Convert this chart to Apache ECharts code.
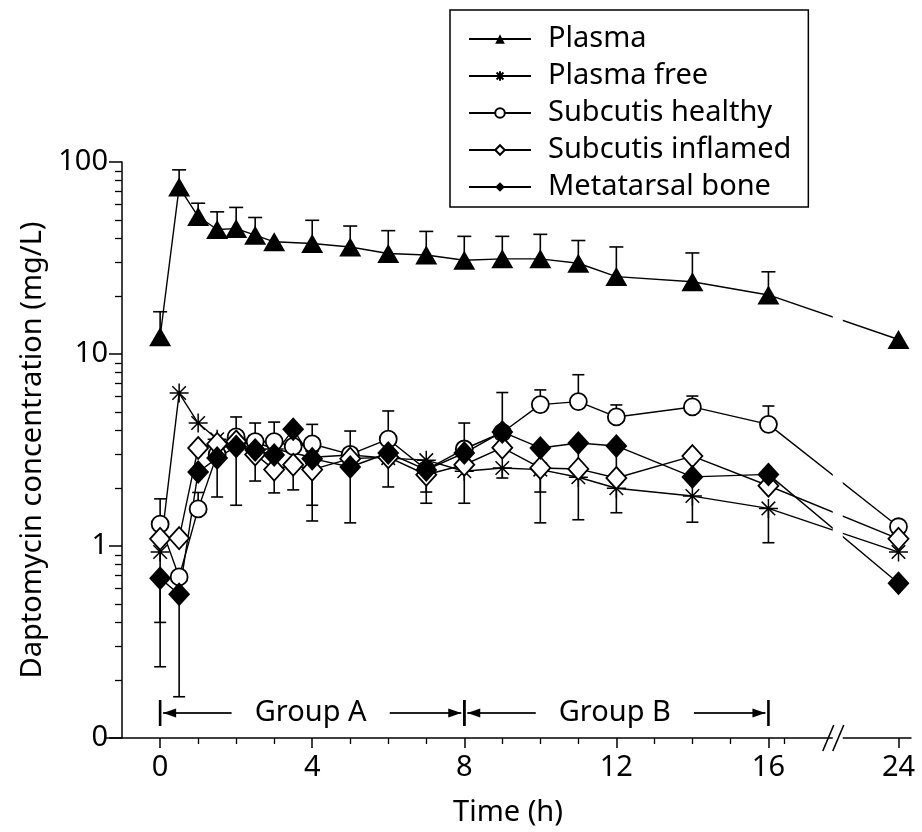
<!DOCTYPE html>
<html><head><meta charset="utf-8">
<script src="https://cdn.jsdelivr.net/npm/echarts@6/dist/echarts.min.js"></script>
<style>html,body{margin:0;padding:0;background:#fff}#c{width:922px;height:832px}</style>
</head><body><div id="c"></div>
<script>
// ---- data (time in hours, concentration in mg/L) ----
const timeH = [0, 0.5, 1, 1.5, 2, 2.5, 3, 3.5, 4, 5, 6, 7, 8, 9, 10, 11, 12, 14, 16, 24];
const plasma      = [12.3, 74, 52, 44.5, 45, 41.6, 38.4, null, 37.6, 36.1, 33.4, 32.8, 30.8, 31.3, 31.3, 29.7, 25.3, 23.8, 20.3, 11.9];
const plasmaFree  = [0.93, 6.26, 4.37, 3.6, 3.4, 3.48, 3.2, null, 2.9, 2.98, 2.87, 2.8, 2.45, 2.55, 2.5, 2.28, 2.0, 1.82, 1.57, 0.93];
const subHealthy  = [1.30, 0.69, 1.56, 3.0, 3.7, 3.5, 3.5, 3.3, 3.4, 3.0, 3.6, 2.5, 3.2, 3.9, 5.45, 5.65, 4.7, 5.3, 4.3, 1.26];
const subInflamed = [1.09, 1.10, 3.24, 3.4, 3.5, 3.0, 2.5, 2.65, 2.5, 2.85, 2.9, 2.35, 2.65, 3.25, 2.55, 2.52, 2.26, 2.94, 2.06, 1.09];
const metaBone    = [0.68, 0.56, 2.43, 2.87, 3.3, 3.16, 2.98, 4.05, 2.85, 2.58, 3.05, 2.49, 3.05, 3.93, 3.24, 3.44, 3.32, 2.29, 2.36, 0.64];
// error bar ends (one-sided)
const plasmaHi    = [16.6, 91, 61, 55, 58, 51.4, null, null, 49.7, 46.4, 43.9, 43.5, 41, 41, 42, 39, 36.1, 33.6, 26.8, null];
const healthyHi   = [1.76, null, 1.9, null, 4.7, 4.37, 4.42, null, 4.3, 3.97, 5.05, null, 4.37, 6.3, 6.5, 7.8, 5.43, 6.04, 5.36, null];
const boneLo      = [0.235, 0.164, null, 1.80, 1.63, 2.18, 1.89, 1.96, 1.35, 1.32, 2.03, 1.67, 1.67, null, 1.32, 1.37, 1.49, null, null, null];
const freeLo      = [0.40, null, null, null, null, null, null, null, 1.63, null, null, 1.91, null, 2.26, 1.91, null, null, 1.33, 1.04, null];
const seriesNames = ['Plasma', 'Plasma free', 'Subcutis healthy', 'Subcutis inflamed', 'Metatarsal bone'];
const xMajorTicks = [0, 4, 8, 12, 16, 24];
const xMinorTicks = [1, 2, 3, 5, 6, 7, 9, 10, 11, 13, 14, 15, 17];
const yMinorTicks = [0.2,0.3,0.4,0.5,0.6,0.7,0.8,0.9,2,3,4,5,6,7,8,9,20,30,40,50,60,70,80,90];
const groups = [{label: 'Group A', from: 0, to: 8}, {label: 'Group B', from: 8, to: 16}];

// ---- broken time axis: 16 -> 24 compressed ----
const BREAK_START = 16, BREAK_SCALE = 0.4276, BREAK_MARK = 17.85;
const pos = t => t <= BREAK_START ? t : BREAK_START + (t - BREAK_START) * BREAK_SCALE;
const unpos = p => p <= BREAK_START + 1e-6 ? p : BREAK_START + (p - BREAK_START) / BREAK_SCALE;

const FONT = 'Noto Sans';
const FS = 29;

function pts(vals) {
  const out = [];
  timeH.forEach((t, i) => { if (vals[i] != null) out.push([pos(t), vals[i]]); });
  return out;
}
function errPts(vals, ends) {
  const out = [];
  timeH.forEach((t, i) => { if (vals[i] != null && ends[i] != null) out.push([pos(t), vals[i], ends[i]]); });
  return out;
}
const asterisk = 'path://M8,0L8,16M0,8L16,8M2.3,2.3L13.7,13.7M13.7,2.3L2.3,13.7';

function lineSeries(name, vals, symbol, size, fill, border) {
  return {
    name, type: 'line', data: pts(vals), z: 3,
    symbol, symbolSize: size, showSymbol: true, animation: false,
    lineStyle: {color: '#000', width: 1.4},
    itemStyle: {color: fill, borderColor: '#000', borderWidth: border},
    emphasis: {disabled: true}
  };
}
function errSeries(data, capHalf) {
  return {
    type: 'custom', data, z: 2, animation: false, silent: true,
    renderItem(params, api) {
      const x = api.value(0), v = api.value(1), e = api.value(2);
      const p0 = api.coord([x, v]), p1 = api.coord([x, e]);
      return {type: 'group', children: [
        {type: 'line', shape: {x1: p0[0], y1: p0[1], x2: p1[0], y2: p1[1]}, style: {stroke: '#000', lineWidth: 1.6}},
        {type: 'line', shape: {x1: p1[0] - capHalf, y1: p1[1], x2: p1[0] + capHalf, y2: p1[1]}, style: {stroke: '#000', lineWidth: 1.6}}
      ]};
    }
  };
}

const chart = echarts.init(document.getElementById('c'), null, {renderer: 'canvas'});
const option = {
  backgroundColor: '#fff',
  animation: false,
  textStyle: {fontFamily: FONT, color: '#000'},
  grid: {left: 105, right: 11, top: 162, bottom: 92},
  legend: {
    data: seriesNames, orient: 'vertical', left: 450, top: 10,
    padding: [14, 17, 5, 18], itemGap: 7, itemWidth: 62, itemHeight: 12,
    borderColor: '#000', borderWidth: 1.5,
    textStyle: {fontFamily: FONT, fontSize: FS, lineHeight: 30, color: '#000', padding: [0, 0, 0, 12]}
  },
  xAxis: [{
    type: 'value', min: -1.45, max: 19.75,
    name: 'Time (h)', nameLocation: 'middle', nameGap: 60,
    nameTextStyle: {fontFamily: FONT, fontSize: FS, color: '#000'},
    axisLine: {show: true, onZero: false, lineStyle: {color: '#000', width: 1.5}},
    axisTick: {show: true, length: 10, lineStyle: {color: '#000', width: 1.5}, customValues: xMajorTicks.map(pos)},
    axisLabel: {show: true, fontFamily: FONT, fontSize: FS, color: '#000', margin: 15,
      customValues: xMajorTicks.map(pos), formatter: v => String(Math.round(unpos(v)))},
    splitLine: {show: false}
  }, {
    type: 'value', min: -1.45, max: 19.75, position: 'bottom',
    axisLine: {show: false, onZero: false},
    axisTick: {show: true, length: 6, lineStyle: {color: '#000', width: 1.3}, customValues: xMinorTicks.map(pos)},
    axisLabel: {show: false}, splitLine: {show: false}
  }],
  yAxis: [{
    type: 'log', logBase: 10, min: 0.1, max: 100, offset: -17,
    name: 'Daptomycin concentration (mg/L)', nameLocation: 'middle', nameGap: 74,
    nameTextStyle: {fontFamily: FONT, fontSize: FS, color: '#000'},
    axisLine: {show: true, onZero: false, lineStyle: {color: '#000', width: 1.5}},
    axisTick: {show: true, length: 13, lineStyle: {color: '#000', width: 1.5}},
    axisLabel: {fontFamily: FONT, fontSize: FS, color: '#000', margin: 14,
      formatter: v => v < 0.5 ? '0' : String(Math.round(v))},
    splitLine: {show: false}, minorTick: {show: false}
  }, {
    type: 'log', logBase: 10, min: 0.1, max: 100, offset: -17, position: 'left',
    axisLine: {show: false, onZero: false},
    axisTick: {show: true, length: 7, lineStyle: {color: '#000', width: 1.3}, customValues: yMinorTicks},
    axisLabel: {show: false}, splitLine: {show: false}
  }],
  series: [
    errSeries(errPts(plasma, plasmaHi), 7),
    errSeries(errPts(subHealthy, healthyHi), 6),
    errSeries(errPts(metaBone, boneLo), 6),
    errSeries(errPts(plasmaFree, freeLo), 6),
    lineSeries(seriesNames[0], plasma, 'triangle', [22, 19], '#000', 0),
    lineSeries(seriesNames[1], plasmaFree, asterisk, 19, 'none', 1.5),
    lineSeries(seriesNames[2], subHealthy, 'circle', 17, '#fff', 1.8),
    lineSeries(seriesNames[3], subInflamed, 'diamond', [20, 22], '#fff', 1.8),
    lineSeries(seriesNames[4], metaBone, 'diamond', [22, 24], '#000', 0)
  ]
};
chart.setOption(option);

// ---- annotations: axis break and sampling groups ----
function px(t, v) { return chart.convertToPixel({xAxisIndex: 0, yAxisIndex: 0}, [t, v]); }
const g = [];
const plotTop = px(0, 100)[1], axisY = px(0, 0.1)[1];
const bx = px(BREAK_MARK, 0.1)[0];
g.push({type: 'rect', shape: {x: bx - 6, y: plotTop, width: 10, height: axisY - plotTop + 2}, style: {fill: '#fff'}, z: 50});
g.push({type: 'line', shape: {x1: bx - 16, y1: axisY + 13, x2: bx - 5, y2: axisY - 13}, style: {stroke: '#000', lineWidth: 1.6}, z: 51});
g.push({type: 'line', shape: {x1: bx - 6, y1: axisY + 13, x2: bx + 5, y2: axisY - 13}, style: {stroke: '#000', lineWidth: 1.6}, z: 51});
const ay = axisY - 25;
function arrow(x1, x2, tipLeft) {
  g.push({type: 'line', shape: {x1, y1: ay, x2, y2: ay}, style: {stroke: '#222', lineWidth: 2}, z: 51});
  const tip = tipLeft ? x1 : x2, d = tipLeft ? 1 : -1;
  g.push({type: 'polygon', shape: {points: [[tip, ay], [tip + d * 13, ay - 4.5], [tip + d * 13, ay + 4.5]]}, style: {fill: '#000'}, z: 52});
}
groups.forEach(gr => {
  const xa = px(pos(gr.from), 1)[0], xb = px(pos(gr.to), 1)[0];
  [xa, xb].forEach(x => g.push({type: 'line', shape: {x1: x, y1: axisY - 38, x2: x, y2: axisY - 12}, style: {stroke: '#000', lineWidth: 2.6}, z: 51}));
  const w = xb - xa, cx = xa + w * 0.495;
  arrow(xa + 3, xa + w * 0.235, true);
  arrow(xa + w * 0.755, xb - 3, false);
  g.push({type: 'text', x: cx, y: ay, style: {text: gr.label, fontFamily: FONT, fontSize: FS, fill: '#000', align: 'center', verticalAlign: 'middle'}, z: 52});
});
chart.setOption({graphic: g});
</script></body></html>
